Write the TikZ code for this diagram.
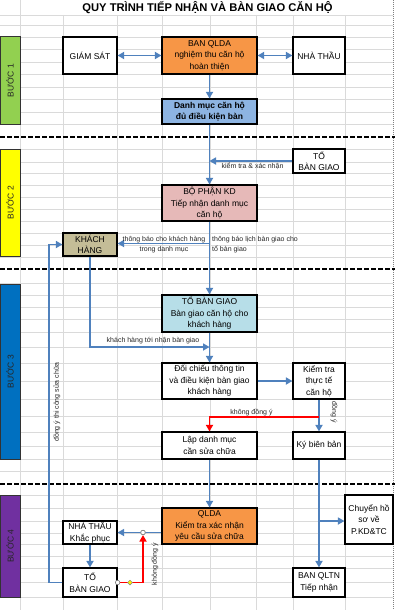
\documentclass[tikz,border=0pt]{standalone}
\usepackage{fontspec}
\setmainfont{Liberation Sans}
\usetikzlibrary{arrows.meta,shapes.geometric}
\definecolor{conncol}{HTML}{4F81BD}
\definecolor{redcol}{HTML}{FF0000}
\definecolor{gridcol}{HTML}{DADADA}
\definecolor{barA}{HTML}{92D050}
\definecolor{barB}{HTML}{FFFF00}
\definecolor{barC}{HTML}{0070C0}
\definecolor{barD}{HTML}{7030A0}
\definecolor{orangebox}{HTML}{F79646}
\definecolor{dmblue}{HTML}{8DB4E2}
\definecolor{pinkbox}{HTML}{E6B9B8}
\definecolor{tanbox}{HTML}{C4BD97}
\definecolor{cyanbox}{HTML}{B7DEE8}
\begin{document}
\begin{tikzpicture}[x=1pt,y=-1pt,
  box/.style={draw=black,line width=1.2pt,fill=white,inner sep=0pt,align=center,font=\fontsize{8.5}{11.5}\selectfont},
  bar/.style={draw=black!80,line width=1pt,inner sep=0pt,font=\fontsize{8.5}{10}\selectfont,text=black!85,rotate=90},
  conn/.style={draw=conncol,line width=1.7pt,-{Triangle[length=6.5pt,width=7pt]}},
  dbl/.style={draw=conncol,line width=1.7pt,{Triangle[length=6.5pt,width=7pt]}-{Triangle[length=6.5pt,width=7pt]}},
  redconn/.style={draw=redcol,line width=1.7pt,-{Triangle[length=6.5pt,width=7pt]}},
  lbl/.style={inner sep=0pt,font=\fontsize{7}{10}\selectfont,text=black!85},
  sepline/.style={draw=black,line width=1.6pt,dash pattern=on 4.5pt off 2.5pt},
  gridline/.style={draw=gridcol,line width=0.6pt},
  dot/.style={circle,draw=gray,fill=white,line width=0.6pt,inner sep=0pt,minimum size=4.5pt},
  ydot/.style={diamond,draw=gray,fill=yellow,line width=0.5pt,inner sep=0pt,minimum size=5pt}]
\useasboundingbox (0,0) rectangle (400,610);
\fill[white] (0,0) rectangle (400,610);
% grid
\foreach \yy in {15,25,37,49,62,74,87,99,112,124,149,162,173,185,197,209,221,233,245,257,283,295,307,319,332,347,363,381,399,416,432,446,459,471,495,508,521,533,544,556,568,582,597}
  \draw[gridline] (0,\yy) -- (393,\yy);
\draw[gridline] (20,0) -- (20,610);
\foreach \xx in {63,117,162,210,256,293,345}
  \draw[gridline] (\xx,15) -- (\xx,610);
\draw[gray,line width=0.8pt,dash pattern=on 1pt off 1pt] (393,0) -- (393,610);
% title
\node[inner sep=0pt,font=\fontsize{11.2}{13}\selectfont\bfseries] (title) at (207.5,8) {QUY TRÌNH TIẾP NHẬN VÀ BÀN GIAO CĂN HỘ};
% separators
\draw[sepline] (0,137) -- (395,137);
\draw[sepline] (0,269) -- (395,269);
\draw[sepline] (0,484) -- (395,484);
% step bars
\node[bar,fill=barA,minimum width=87pt,minimum height=20pt] (b1) at (10,80.5) {BƯỚC 1};
\node[bar,fill=barB,minimum width=107pt,minimum height=20pt] (b2) at (10,202.5) {BƯỚC 2};
\node[bar,fill=barC,minimum width=175pt,minimum height=20pt] (b3) at (10,371.5) {BƯỚC 3};
\node[bar,fill=barD,minimum width=102pt,minimum height=20pt] (b4) at (10,546) {BƯỚC 4};
% boxes
\node[box,minimum width=54pt,minimum height=37pt] (gs) at (90,55.5) {GIÁM SÁT};
\node[box,fill=orangebox,minimum width=95pt,minimum height=37pt] (qlda1) at (209.5,55.5) {BAN QLDA\\nghiệm thu căn hộ\\hoàn thiện};
\node[box,minimum width=52pt,minimum height=37pt] (nt1) at (319,55.5) {NHÀ THẦU};
\node[box,fill=dmblue,minimum width=95pt,minimum height=25pt,font=\fontsize{8.5}{11.5}\selectfont\bfseries] (dm) at (209.5,111.5) {Danh mục căn hộ\\đủ điều kiện bàn};
\node[box,minimum width=52pt,minimum height=24pt] (tbg2) at (319,161) {TỔ\\BÀN GIAO};
\node[box,fill=pinkbox,minimum width=95pt,minimum height=36pt] (kd) at (209.5,203) {BỘ PHẬN KD\\Tiếp nhận danh mục\\căn hộ};
\node[box,fill=tanbox,minimum width=54pt,minimum height=23pt] (kh) at (90,244.5) {KHÁCH\\HÀNG};
\node[box,fill=cyanbox,minimum width=95pt,minimum height=37pt] (tbg3) at (209.5,313.5) {TỔ BÀN GIAO\\Bàn giao căn hộ cho\\khách hàng};
\node[box,minimum width=95pt,minimum height=36pt] (dc) at (209.5,381) {Đối chiếu thông tin\\và điều kiện bàn giao\\khách hàng};
\node[box,minimum width=52pt,minimum height=36pt] (kt) at (319,381) {Kiểm tra\\thực tế\\căn hộ};
\node[box,minimum width=95pt,minimum height=27pt] (ldm) at (209.5,445.5) {Lập danh mục\\cần sửa chữa};
\node[box,minimum width=52pt,minimum height=27pt] (kbb) at (319,445.5) {Ký biên bản};
\node[box,fill=orangebox,minimum width=95pt,minimum height=36pt] (qlda4) at (209.5,526) {QLDA\\Kiểm tra xác nhận\\yêu cầu sửa chữa};
\node[box,minimum width=54pt,minimum height=23pt] (ntkp) at (90,532.5) {NHÀ THẦU\\Khắc phục};
\node[box,minimum width=54pt,minimum height=29pt] (tbg4) at (90,582.5) {TỔ\\BÀN GIAO};
\node[box,minimum width=52pt,minimum height=29pt] (qltn) at (319,582.5) {BAN QLTN\\Tiếp nhận};
\node[box,minimum width=48pt,minimum height=49pt] (chs) at (369,519.5) {Chuyển hồ\\sơ về\\P.KD\&TC};
% junction coordinates
\coordinate (j1) at (209.5,243.5);
\coordinate (j2) at (209.5,347);
\coordinate (j3) at (319,417);
\coordinate (j4) at (319,521);
\coordinate (lft) at (49,582.5);
% connectors
\draw[dbl] (gs) -- (qlda1);
\draw[dbl] (qlda1) -- (nt1);
\draw[conn] (qlda1.south) -- (dm.north);
\draw[conn] (dm.south) -- (kd.north);
\draw[conn] (tbg2.west) -- (tbg2.west -| dm.south);
\draw[conn] (kd.south) -- (tbg3.north);
\draw[conn] (j1) -- (j1 -| kh.east);
\draw[conn] (kh.south) |- (j2);
\draw[conn] (tbg3.south) -- (dc.north);
\draw[conn] (dc) -- (kt);
\draw[conn] (kt.south) -- (kbb.north);
\draw[redconn] (j3) -| (ldm.north);
\draw[conn] (ldm.south) -- (qlda4.north);
\draw[conn] (kbb.south) -- (qltn.north);
\draw[conn] (j4) -- (j4 -| chs.west);
\draw[conn] (ntkp.south) -- (tbg4.north);
\draw[conn] (tbg4.west) -- (lft) |- (kh.west);
\node[dot] (c1) at (143,532.5) {};
\draw[conn] (qlda4.west |- ntkp.east) -- (ntkp.east);
\draw[redconn] (tbg4.east) -| (c1.south);
\node[dot] (c2) at (tbg4.east) {};
\node[ydot] (d1) at (130,582.5) {};
\node[dot] at (c1) {};
% labels
\node[lbl] (l1) at (252.5,166) {kiểm tra \& xác nhận};
\node[lbl,align=center] (l2) at (164,245) {thông báo cho khách hàng\\trong danh mục};
\node[lbl,align=left,anchor=west] (l3) at (212,245) {thông báo lịch bàn giao cho\\tổ bàn giao};
\node[lbl] (l4) at (153,341) {khách hàng tới nhận bàn giao};
\node[lbl] (l5) at (251.5,412.5) {không đồng ý};
\node[lbl,rotate=-90] (l6) at (334,412) {đồng ý};
\node[lbl,rotate=90] (l7) at (57,402) {đồng ý thi công sửa chữa};
\node[lbl,rotate=90] (l8) at (155,564) {không đồng ý};
\end{tikzpicture}
\end{document}
